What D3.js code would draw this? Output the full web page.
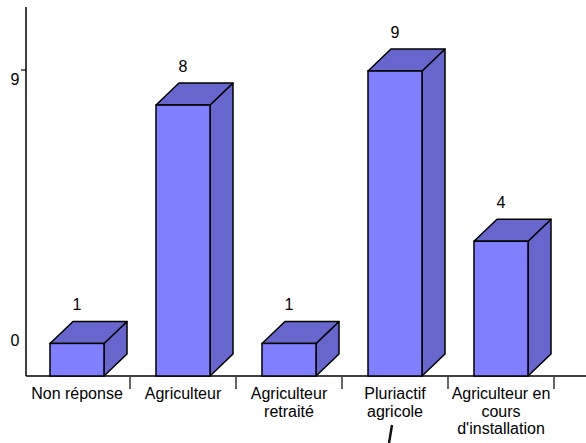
<!DOCTYPE html>
<html>
<head>
<meta charset="utf-8">
<script src="https://cdn.jsdelivr.net/npm/d3@7"></script>
<style>
  body { margin: 0; background: #fff; }
  text { font-family: "Liberation Sans", Arial, sans-serif; fill: #000; }
</style>
</head>
<body>
<div class="chart"></div>
<script>
// data
const categories = ["Non réponse", "Agriculteur", "Agriculteur retraité", "Pluriactif agricole", "Agriculteur en cours d'installation"];
const categoryLines = [["Non réponse"], ["Agriculteur"], ["Agriculteur", "retraité"], ["Pluriactif", "agricole"], ["Agriculteur en", "cours", "d'installation"]];
const values = [1, 8, 1, 9, 4];
const yTickValues = [9];
const yLabelValues = [9, 1.35];
const yLabelTexts = ["9", "0"];

const width = 586, height = 443;
const baseY = 376, axisX = 26;
const depthX = 23, depthY = 22;
const barW = 54;

const svg = d3.select(".chart")
    .append("svg")
    .attr("width", width)
    .attr("height", height);

const xScale = d3.scaleBand()
    .domain(categories)
    .range([24, 554])
    .padding(0);

const yScale = d3.scaleLinear()
    .domain([0, 9])
    .range([377.5, 71]);

// axes
svg.append("line")
    .attr("x1", axisX).attr("x2", axisX)
    .attr("y1", 7).attr("y2", baseY)
    .attr("stroke", "#000").attr("stroke-width", 1.5);

svg.append("line")
    .attr("x1", axisX).attr("x2", width)
    .attr("y1", baseY).attr("y2", baseY)
    .attr("stroke", "#000").attr("stroke-width", 1.5);

svg.selectAll(".ytick")
    .data(yTickValues)
    .enter()
    .append("line")
    .attr("x1", axisX - 5).attr("x2", axisX)
    .attr("y1", d => yScale(d) - 1).attr("y2", d => yScale(d) - 1)
    .attr("stroke", "#000").attr("stroke-width", 1.2);

svg.selectAll(".ylabel")
    .data(yLabelValues)
    .enter()
    .append("text")
    .attr("x", 15)
    .attr("y", d => yScale(d) + 14)
    .attr("text-anchor", "middle")
    .attr("font-size", 16)
    .text((d, i) => yLabelTexts[i]);

// x ticks between categories
svg.selectAll(".xtick")
    .data(categories)
    .enter()
    .append("line")
    .attr("x1", d => xScale(d) + xScale.bandwidth())
    .attr("x2", d => xScale(d) + xScale.bandwidth())
    .attr("y1", baseY + 1).attr("y2", baseY + 13)
    .attr("stroke", "#000").attr("stroke-width", 1.2);

// 3d bars
const bars = svg.selectAll(".bar")
    .data(categories)
    .enter()
    .append("g")
    .attr("class", "bar");

const left = d => xScale(d) + (xScale.bandwidth() - barW) / 2;

bars.append("path")
    .attr("d", (d, i) => {
        const x0 = left(d) + barW, y0 = yScale(values[i]);
        return `M${x0},${y0}L${x0 + depthX},${y0 - depthY}L${x0 + depthX},${baseY - depthY}L${x0},${baseY}Z`;
    })
    .attr("fill", "#6666CC").attr("stroke", "#000").attr("stroke-width", 1.5)
    .attr("stroke-linejoin", "round");

bars.append("path")
    .attr("d", (d, i) => {
        const x0 = left(d), x1 = x0 + barW, y0 = yScale(values[i]);
        return `M${x0},${y0}L${x0 + depthX},${y0 - depthY}L${x1 + depthX},${y0 - depthY}L${x1},${y0}Z`;
    })
    .attr("fill", "#6666CC").attr("stroke", "#000").attr("stroke-width", 1.5)
    .attr("stroke-linejoin", "round");

bars.append("rect")
    .attr("x", d => left(d))
    .attr("y", (d, i) => yScale(values[i]))
    .attr("width", barW)
    .attr("height", (d, i) => baseY - yScale(values[i]))
    .attr("fill", "#8080FF").attr("stroke", "#000").attr("stroke-width", 1.5);

bars.append("text")
    .attr("x", d => left(d) + barW / 2)
    .attr("y", (d, i) => yScale(values[i]) - depthY - 11)
    .attr("text-anchor", "middle")
    .attr("font-size", 16)
    .text((d, i) => values[i]);

// category labels
svg.selectAll(".xlabel")
    .data(categories)
    .enter()
    .append("text")
    .attr("x", d => xScale(d) + xScale.bandwidth() / 2)
    .attr("y", 399)
    .attr("text-anchor", "middle")
    .attr("font-size", 16)
    .each(function(d, i) {
        d3.select(this).selectAll("tspan")
            .data(categoryLines[i])
            .enter()
            .append("tspan")
            .attr("x", xScale(d) + xScale.bandwidth() / 2)
            .attr("dy", (t, j) => j === 0 ? 0 : 17.5)
            .text(t => t);
    });

// stray pen mark under "agricole"
svg.append("line")
    .attr("x1", 392).attr("y1", 425)
    .attr("x2", 389).attr("y2", 443)
    .attr("stroke", "#111").attr("stroke-width", 2.5);
</script>
</body>
</html>
